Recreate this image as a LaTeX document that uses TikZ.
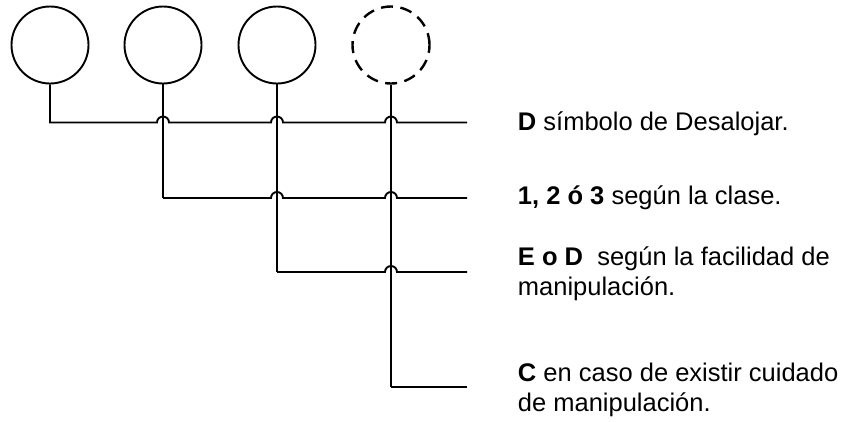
\documentclass[tikz,border=0pt]{standalone}
\usepackage{fontspec}
\setmainfont{Liberation Sans}
\usetikzlibrary{calc}
\begin{document}
\begin{tikzpicture}[x=1pt,y=1pt,line width=1.9pt,
  ring/.style={circle,draw,minimum size=77pt,inner sep=0pt,line width=1.9pt},
  dashring/.style={ring,dashed,line width=2.4pt,dash pattern=on 12pt off 7.5pt},
  wire/.style={draw,line width=1.9pt},
  label/.style={inner sep=0pt,align=left,font=\fontsize{25.5}{30}\selectfont}]
\useasboundingbox (0,0) rectangle (856,-421);
\node[ring] (c1) at (50,-45) {};
\node[ring] (c2) at (163,-45) {};
\node[ring] (c3) at (277,-45) {};
\node[dashring] (c4) at (391,-45) {};
\coordinate (e1) at (467,-122.5);
\coordinate (e2) at (467,-198);
\coordinate (e3) at (467,-272);
\coordinate (e4) at (467,-387);
\def\hr{6}
% vertical drops
\draw[wire] (c2.south) -- (c2.south |- e2);
\draw[wire] (c3.south) -- (c3.south |- e3);
\draw[wire] (c4.south) -- (c4.south |- e4);
% horizontal lines with hops
\draw[wire] (c1.south) |- ($(c2.south|-e1)+(-\hr,0)$) arc[start angle=180,end angle=0,radius=\hr]
  -- ($(c3.south|-e1)+(-\hr,0)$) arc[start angle=180,end angle=0,radius=\hr]
  -- ($(c4.south|-e1)+(-\hr,0)$) arc[start angle=180,end angle=0,radius=\hr]
  -- (e1);
\draw[wire] (c2.south|-e2) -- ($(c3.south|-e2)+(-\hr,0)$) arc[start angle=180,end angle=0,radius=\hr]
  -- ($(c4.south|-e2)+(-\hr,0)$) arc[start angle=180,end angle=0,radius=\hr]
  -- (e2);
\draw[wire] (c3.south|-e3) -- ($(c4.south|-e3)+(-\hr,0)$) arc[start angle=180,end angle=0,radius=\hr]
  -- (e3);
\draw[wire] (c4.south|-e4) -- (e4);
% labels
\node[label,anchor=base west] (t1) at (517,-130) {\textbf{D} símbolo de Desalojar.};
\node[label,anchor=base west] (t2) at (517,-204) {\textbf{1, 2 ó 3} según la clase.};
\node[label,anchor=base west] (t3) at (517,-295) {\textbf{E o D}\ \ según la facilidad de\\manipulación.};
\node[label,anchor=base west] (t4) at (517,-411.5) {\textbf{C} en caso de existir cuidado\\de manipulación.};
\end{tikzpicture}
\end{document}
